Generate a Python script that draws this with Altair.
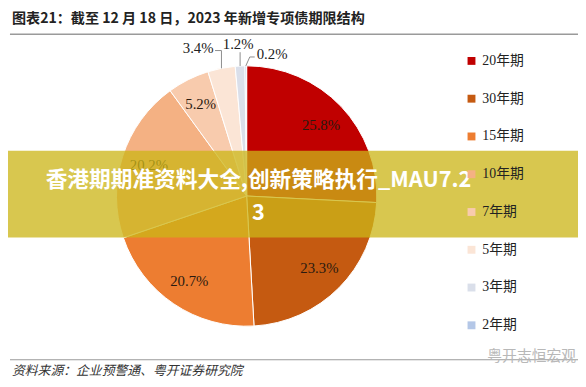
import math
import altair as alt
import pandas as pd

# ---------------- data ----------------
categories = ["20年期", "30年期", "15年期", "10年期", "7年期", "5年期", "3年期", "2年期"]
shares = [25.8, 23.3, 20.7, 20.2, 5.2, 3.4, 1.2, 0.2]
colors = ["#C00000", "#C55A11", "#ED7D31", "#F4B183", "#F8CBAD", "#FBE5D6", "#DADFEA", "#B4C7E7"]

title_text = "图表21：截至 12 月 18 日，2023 年新增专项债期限结构"
source_text = "资料来源：企业预警通、粤开证券研究院"
banner_line1 = "香港期期准资料大全,创新策略执行_MAU7.2"
banner_line2 = "3"
watermark_text = "粤开志恒宏观"

# ---------------- layout / style ----------------
W, H = 578, 379
CX, CY, R = 242, 188, 132
LABEL_R = 104
SERIF = "'Liberation Serif', 'Times New Roman', 'Noto Sans CJK SC', serif"
SANS = "'Noto Sans CJK SC', sans-serif"

# outside label styles for the small slices: elbow offset, end offset, text offset, align
outside_style = {
    "5年期": dict(elbow=(0, -18), end=(-6.5, -18), text=(-8, -21), align="right"),
    "3年期": dict(elbow=(0, -14), end=(0, -14), text=(-2, -22), align="center"),
    "2年期": dict(elbow=(4, -9), end=(9, -9), text=(11, -11.5), align="left"),
}

total = sum(shares)
labels = [f"{v:.1f}%" for v in shares]
inner = [lab if cat not in outside_style else "" for cat, lab in zip(categories, labels)]

df = pd.DataFrame({
    "cat": categories,
    "share": shares,
    "order": list(range(len(categories))),
    "inner": inner,
})

# leader lines and outside labels derived from the cumulative angles
line_rows, text_rows = [], []
cum = 0.0
for cat, v, lab in zip(categories, shares, labels):
    start = cum
    cum += v
    if cat in outside_style:
        mid = (start + v / 2) / total * 2 * math.pi
        ex = CX + R * math.sin(mid)
        ey = CY - R * math.cos(mid)
        st = outside_style[cat]
        pts = [(ex, ey), (ex + st["elbow"][0], ey + st["elbow"][1]), (ex + st["end"][0], ey + st["end"][1])]
        for i, (px, py) in enumerate(pts):
            line_rows.append({"cat": cat, "px": px, "py": py, "seq": i})
        text_rows.append({"cat": cat, "px": ex + st["text"][0], "py": ey + st["text"][1],
                          "label": lab, "align": st["align"]})

lines_df = pd.DataFrame(line_rows)
texts_df = pd.DataFrame(text_rows)

color_scale = alt.Scale(domain=categories, range=colors)

base = alt.Chart(df).encode(
    theta=alt.Theta("share:Q", stack=True),
    order=alt.Order("order:Q"),
)

pie = base.mark_arc(radius=R, stroke="white", strokeWidth=1).encode(
    x=alt.value(CX), y=alt.value(CY),
    color=alt.Color(
        "cat:N", scale=color_scale, sort=categories,
        legend=alt.Legend(
            title=None, orient="none", legendX=463, legendY=44,
            symbolType="square", symbolSize=64, symbolStrokeWidth=0,
            labelFont=SERIF, labelFontSize=14, labelColor="#222",
            rowPadding=24.3, labelOffset=4, padding=0,
        ),
    ),
)

inner_text = base.mark_text(radius=LABEL_R, font=SERIF, fontSize=15, color="#2a1a10").encode(
    x=alt.value(CX), y=alt.value(CY),
    text="inner:N",
    detail="cat:N",
)

leaders = alt.Chart(lines_df).mark_line(color="#8c8c8c", strokeWidth=1).encode(
    x=alt.X("px:Q", scale=None, axis=None),
    y=alt.Y("py:Q", scale=None, axis=None),
    detail="cat:N",
    order="seq:Q",
)

out_layers = []
for al in ["left", "center", "right"]:
    sub = texts_df[texts_df["align"] == al]
    if len(sub):
        out_layers.append(
            alt.Chart(sub).mark_text(font=SERIF, fontSize=15, color="#222", align=al, baseline="middle").encode(
                x=alt.X("px:Q", scale=None, axis=None),
                y=alt.Y("py:Q", scale=None, axis=None),
                text="label:N",
            )
        )

one = pd.DataFrame({"k": [0]})

title = alt.Chart(one).mark_text(text=title_text, font=SANS, fontSize=14.3, fontWeight="bold",
                                 align="left", baseline="middle", color="#222").encode(
    x=alt.value(4), y=alt.value(8.8))
title_rule = alt.Chart(one).mark_rule(color="#9a9a9a", strokeWidth=1.5).encode(
    x=alt.value(2), x2=alt.value(W), y=alt.value(24))
bottom_rule = alt.Chart(one).mark_rule(color="#9a9a9a", strokeWidth=1.2).encode(
    x=alt.value(2), x2=alt.value(W), y=alt.value(354))
source = alt.Chart(one).mark_text(text=source_text, font=SANS, fontSize=13, fontStyle="italic",
                                  align="left", baseline="middle", color="#333").encode(
    x=alt.value(4), y=alt.value(365))
watermark = alt.Chart(one).mark_text(text=watermark_text, font=SANS, fontSize=15,
                                     align="right", baseline="middle", color="#b8b8b8").encode(
    x=alt.value(576), y=alt.value(350))

banner = alt.Chart(one).mark_rect(color="#CCB618", opacity=0.76).encode(
    x=alt.value(0), x2=alt.value(W), y=alt.value(142), y2=alt.value(230))
banner_t1 = alt.Chart(one).mark_text(text=banner_line1, font=SANS, fontSize=22, fontWeight="bold",
                                     color="white", align="center", baseline="middle").encode(
    x=alt.value(254), y=alt.value(172))
banner_t2 = alt.Chart(one).mark_text(text=banner_line2, font=SANS, fontSize=22, fontWeight="bold",
                                     color="white", align="center", baseline="middle").encode(
    x=alt.value(254), y=alt.value(205))

chart = alt.layer(
    pie, inner_text, leaders, *out_layers,
    title, title_rule, bottom_rule, source, watermark,
    banner, banner_t1, banner_t2,
).properties(
    width=W, height=H,
    autosize=alt.AutoSizeParams(type="none"),
    padding=0,
).configure_view(stroke=None).resolve_scale(x="independent", y="independent")

chart.save("out.html", embed_options={"renderer": "svg", "actions": False})
